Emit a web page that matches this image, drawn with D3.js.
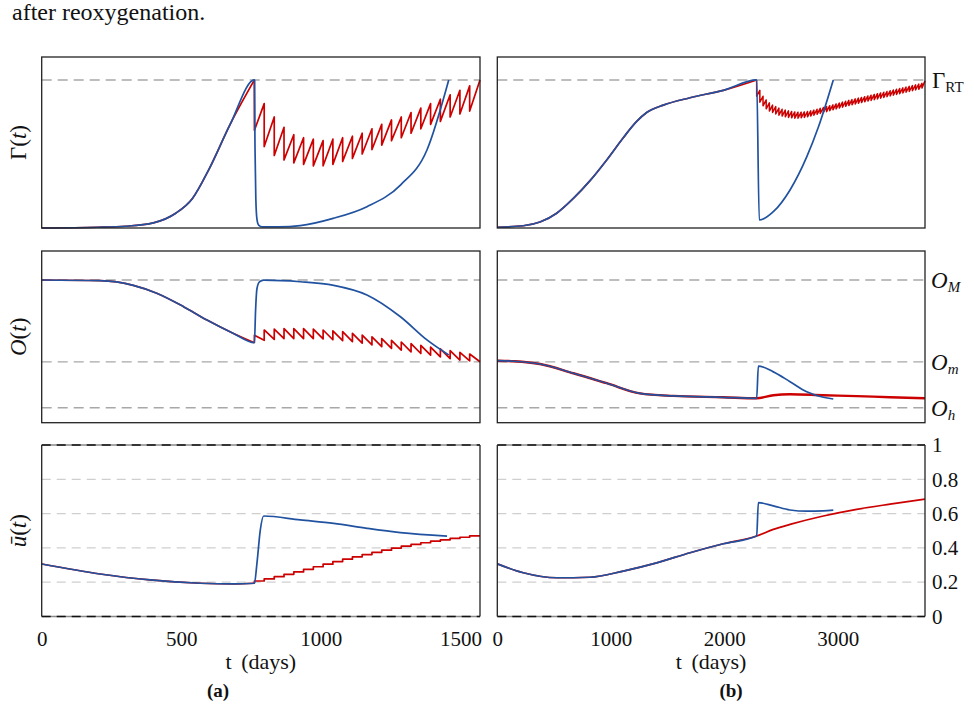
<!DOCTYPE html>
<html>
<head>
<meta charset="utf-8">
<title>reoxygenation</title>
<style>
  body { margin: 0; background: #fff; }
  text { font-family: "Liberation Serif", "DejaVu Serif", serif; fill: #111; }
</style>
</head>
<body>
<script src="https://d3js.org/d3.v7.min.js"></script>
<script>
// ---------- data ----------
// panel (a): shared growth before treatment, then untreated (blue) / treated (red)
var daysA_gamma_pre = [0, 200, 300, 400, 480, 540, 600, 675, 762];
var gammaA_pre      = [0, 0.005, 0.012, 0.035, 0.10, 0.20, 0.40, 0.70, 1.0];
var daysA_gamma_blue = [764, 767, 771, 777, 790, 850, 926, 1044, 1165, 1285, 1380, 1458];
var gammaA_blue      = [0.55, 0.2, 0.06, 0.02, 0.008, 0.008, 0.016, 0.065, 0.144, 0.29, 0.527, 1.0];

var daysA_O_pre = [0, 209, 328, 412, 508, 592, 687, 762];
var oA_pre      = [0.831, 0.827, 0.80, 0.754, 0.676, 0.598, 0.52, 0.466];
var daysA_O_blue = [766, 771, 780, 795, 926, 1046, 1165, 1285, 1380, 1458];
var oA_blue      = [0.65, 0.78, 0.82, 0.83, 0.821, 0.80, 0.744, 0.617, 0.482, 0.394];

var daysA_u_pre = [0, 209, 388, 568, 687, 762];
var uA_pre      = [0.306, 0.248, 0.213, 0.194, 0.19, 0.194];
var daysA_u_blue = [771, 783, 795, 926, 1046, 1165, 1285, 1452];
var uA_blue      = [0.31, 0.504, 0.586, 0.563, 0.543, 0.514, 0.489, 0.469];

// radiotherapy fractions in (a)
var dosesA = [762, 797, 833, 868, 903, 938, 973, 1008, 1043, 1078, 1113, 1148,
              1183, 1218, 1253, 1288, 1323, 1358, 1393, 1428, 1463, 1498, 1533];
var endA = 1570;
var gammaA_afterDose  = [0.66, 0.55, 0.49, 0.46, 0.44, 0.43, 0.42, 0.42, 0.43, 0.45, 0.47, 0.50,
                         0.53, 0.56, 0.59, 0.61, 0.64, 0.67, 0.70, 0.72, 0.75, 0.77, 0.79];
var gammaA_beforeNext = [0.84, 0.75, 0.68, 0.63, 0.61, 0.60, 0.59, 0.60, 0.61, 0.62, 0.64, 0.67,
                         0.70, 0.73, 0.75, 0.78, 0.81, 0.84, 0.87, 0.90, 0.93, 0.96, 1.0];
var oA_afterDose  = [0.51, 0.54, 0.545, 0.548, 0.548, 0.548, 0.545, 0.54, 0.535, 0.53, 0.52, 0.51,
                     0.50, 0.49, 0.48, 0.47, 0.46, 0.45, 0.44, 0.43, 0.42, 0.41, 0.40];
var oA_beforeNext = [0.48, 0.485, 0.49, 0.49, 0.49, 0.49, 0.488, 0.483, 0.478, 0.472, 0.463, 0.453,
                     0.443, 0.433, 0.423, 0.413, 0.403, 0.393, 0.383, 0.373, 0.365, 0.36, 0.355];
var uA_afterDose  = [0.207, 0.219, 0.232, 0.246, 0.260, 0.275, 0.290, 0.305, 0.320, 0.334, 0.348, 0.361,
                     0.374, 0.387, 0.399, 0.410, 0.420, 0.430, 0.439, 0.447, 0.455, 0.462, 0.470];

// panel (b)
var daysB_gamma_pre = [0, 229, 376, 523, 670, 817, 964, 1110, 1228, 1316, 1463, 1698, 1991, 2285];
var gammaB_pre      = [0.005, 0.015, 0.04, 0.10, 0.20, 0.32, 0.46, 0.61, 0.72, 0.78, 0.83, 0.88, 0.93, 1.0];
var daysB_gamma_blue = [2308, 2432, 2579, 2726, 2828, 2960];
var gammaB_blue      = [0.054, 0.11, 0.257, 0.48, 0.68, 1.0];

var daysB_O_pre = [0, 150, 376, 670, 964, 1257, 1551, 1991, 2285];
var oB_pre      = [0.361, 0.358, 0.342, 0.288, 0.23, 0.171, 0.156, 0.148, 0.142];
var daysB_O_blue = [2300, 2432, 2579, 2726, 2872, 2960];
var oB_blue      = [0.33, 0.296, 0.239, 0.18, 0.148, 0.138];
var daysB_O_red  = [2432, 2579, 2872, 3166, 3460, 3768];
var oB_red       = [0.16, 0.166, 0.16, 0.155, 0.148, 0.142];

var daysB_u_pre = [0, 229, 523, 817, 1110, 1404, 1698, 1991, 2285];
var uB_pre      = [0.307, 0.255, 0.226, 0.229, 0.265, 0.313, 0.372, 0.424, 0.469];
var daysB_u_blue = [2300, 2432, 2579, 2726, 2872, 2960];
var uB_blue      = [0.664, 0.645, 0.621, 0.614, 0.616, 0.62];
var daysB_u_red  = [2432, 2579, 2872, 3166, 3460, 3768];
var uB_red       = [0.508, 0.537, 0.586, 0.625, 0.655, 0.684];

// radiotherapy fractions in (b)
var dosesB = [2285, 2313, 2341, 2369, 2397, 2425, 2453, 2481, 2509, 2537, 2565, 2593, 2621, 2649,
              2677, 2705, 2733, 2761, 2789, 2817, 2845, 2873, 2901, 2929, 2957, 2985, 3013, 3041,
              3069, 3097, 3125, 3153, 3181, 3209, 3237, 3265, 3293, 3321, 3349, 3377, 3405, 3433,
              3461, 3489, 3517, 3545, 3573, 3601, 3629, 3657, 3685, 3713, 3741];
var endB = 3768;
var gammaB_afterDose  = [0.89, 0.85, 0.825, 0.805, 0.79, 0.78, 0.77, 0.762, 0.756, 0.751, 0.747, 0.744,
                         0.742, 0.742, 0.744, 0.747, 0.751, 0.756, 0.762, 0.768, 0.774, 0.78, 0.786,
                         0.792, 0.798, 0.804, 0.81, 0.816, 0.822, 0.827, 0.832, 0.837, 0.842, 0.847,
                         0.852, 0.857, 0.862, 0.867, 0.872, 0.877, 0.882, 0.887, 0.892, 0.897, 0.902,
                         0.907, 0.912, 0.917, 0.922, 0.927, 0.932, 0.937, 0.945];
var gammaB_beforeNext = [0.93, 0.89, 0.865, 0.845, 0.83, 0.82, 0.81, 0.802, 0.796, 0.791, 0.787, 0.784,
                         0.782, 0.782, 0.784, 0.787, 0.791, 0.796, 0.802, 0.808, 0.814, 0.82, 0.826,
                         0.832, 0.838, 0.844, 0.85, 0.856, 0.862, 0.867, 0.872, 0.877, 0.882, 0.887,
                         0.892, 0.897, 0.902, 0.907, 0.912, 0.917, 0.922, 0.927, 0.932, 0.937, 0.942,
                         0.947, 0.952, 0.957, 0.962, 0.967, 0.972, 0.977, 0.995];

// reference levels and ticks
var gammaLevels = [1];
var oLevels = [0.831, 0.354, 0.087];
var oLevelNames = ["M", "m", "h"];
var uGrid = [0.2, 0.4, 0.6, 0.8];
var uTicks = [0, 0.2, 0.4, 0.6, 0.8, 1];
var ticksA = [0, 500, 1000, 1500];
var ticksB = [0, 1000, 2000, 3000];

// ---------- drawing ----------
var W = 974, H = 723;
var BLUE = "#2152a0", RED = "#cc0000";

var svg = d3.select("body").append("svg").attr("width", W).attr("height", H);
svg.append("rect").attr("width", W).attr("height", H).attr("fill", "#fff");

var xs = [d3.scaleLinear().domain([0, endA]).range([41.7, 480]),
          d3.scaleLinear().domain([0, endB]).range([497.3, 925])];
var ys = [d3.scaleLinear().domain([0, 1.155]).range([228, 57]),
          d3.scaleLinear().domain([0, 1]).range([422.7, 251]),
          d3.scaleLinear().domain([0, 1]).range([616.5, 445])];

function zip(a, b) { return a.map(function (d, i) { return [d, b[i]]; }); }
// a treatment schedule: value jumps at each dose, then drifts until the next one
function schedule(doses, after, before, end) {
  var p = [];
  for (var i = 0; i < doses.length; i++) {
    p.push([doses[i], after[i]]);
    p.push([i + 1 < doses.length ? doses[i + 1] : end, before[i]]);
  }
  return p;
}
function liner(c, r, curve) {
  return d3.line().x(function (d) { return xs[c](d[0]); })
                  .y(function (d) { return ys[r](d[1]); })
                  .curve(curve);
}
function path(c, r, pts, color, curve, w) {
  svg.append("path").attr("d", liner(c, r, curve)(pts))
    .attr("fill", "none").attr("stroke", color).attr("stroke-width", w || 1.7)
    .attr("stroke-linejoin", "round");
}
function hline(c, r, v, color, dash, w) {
  svg.append("line").attr("x1", xs[c].range()[0]).attr("x2", xs[c].range()[1])
    .attr("y1", ys[r](v)).attr("y2", ys[r](v))
    .attr("stroke", color).attr("stroke-width", w).attr("stroke-dasharray", dash);
}

for (var c = 0; c < 2; c++) {
  gammaLevels.forEach(function (v) { hline(c, 0, v, "#a8a8a8", "10,6", 1.4); });
  oLevels.forEach(function (v) { hline(c, 1, v, "#a8a8a8", "10,6", 1.4); });
  uGrid.forEach(function (v) { hline(c, 2, v, "#cfcfcf", "9,6", 1.3); });
}

var M = d3.curveMonotoneX, L = d3.curveLinear;

// panel (a)
path(0, 0, zip(daysA_gamma_pre, gammaA_pre), RED, M);
path(0, 0, [[762, 1.0]].concat(schedule(dosesA, gammaA_afterDose, gammaA_beforeNext, endA)), RED, L);
path(0, 0, zip(daysA_gamma_pre, gammaA_pre).concat(zip(daysA_gamma_blue, gammaA_blue)), BLUE, M);

path(0, 1, zip(daysA_O_pre, oA_pre), RED, M);
path(0, 1, [[762, 0.466]].concat(schedule(dosesA, oA_afterDose, oA_beforeNext, endA)), RED, L);
path(0, 1, zip(daysA_O_pre, oA_pre).concat(zip(daysA_O_blue, oA_blue)), BLUE, M);

path(0, 2, zip(daysA_u_pre, uA_pre), RED, M);
path(0, 2, [[762, 0.194]].concat(schedule(dosesA, uA_afterDose, uA_afterDose, endA)), RED, L);
path(0, 2, zip(daysA_u_pre, uA_pre).concat(zip(daysA_u_blue, uA_blue)), BLUE, M);

// panel (b)
path(1, 0, zip(daysB_gamma_pre, gammaB_pre), RED, M);
path(1, 0, [[2285, 1.0]].concat(schedule(dosesB, gammaB_afterDose, gammaB_beforeNext, endB)), RED, L, 1.5);
path(1, 0, zip(daysB_gamma_pre, gammaB_pre).concat(zip(daysB_gamma_blue, gammaB_blue)), BLUE, M);

path(1, 1, zip(daysB_O_pre, oB_pre).concat(zip(daysB_O_red, oB_red)), RED, M, 2.4);
path(1, 1, zip(daysB_O_pre, oB_pre).concat(zip(daysB_O_blue, oB_blue)), BLUE, M);

path(1, 2, zip(daysB_u_pre, uB_pre).concat(zip(daysB_u_red, uB_red)), RED, M);
path(1, 2, zip(daysB_u_pre, uB_pre).concat(zip(daysB_u_blue, uB_blue)), BLUE, M);

// frames
for (c = 0; c < 2; c++) {
  for (var r = 0; r < 3; r++) {
    var x0 = xs[c].range()[0], x1 = xs[c].range()[1];
    var y0 = ys[r].range()[0], y1 = ys[r].range()[1];
    if (r < 2) {
      svg.append("rect").attr("x", x0).attr("y", y1).attr("width", x1 - x0).attr("height", y0 - y1)
        .attr("fill", "none").attr("stroke", "#222").attr("stroke-width", 1.3);
    } else {
      [y0, y1].forEach(function (y) {
        svg.append("line").attr("x1", x0).attr("x2", x1).attr("y1", y).attr("y2", y)
          .attr("stroke", "#8a8a8a").attr("stroke-width", 1.3);
        svg.append("line").attr("x1", x0).attr("x2", x1).attr("y1", y).attr("y2", y)
          .attr("stroke", "#111").attr("stroke-width", 1.3).attr("stroke-dasharray", "9,6");
      });
      [x0, x1].forEach(function (x) {
        svg.append("line").attr("x1", x).attr("x2", x).attr("y1", y0).attr("y2", y1)
          .attr("stroke", "#222").attr("stroke-width", 1.3);
      });
    }
  }
}

// x axes
[[0, ticksA], [1, ticksB]].forEach(function (a) {
  var g = svg.append("g").attr("transform", "translate(0," + ys[2].range()[0] + ")")
    .call(d3.axisBottom(xs[a[0]]).tickValues(a[1]).tickSize(0).tickPadding(15).tickFormat(d3.format("d")));
  g.select(".domain").remove();
  g.selectAll("text").attr("font-family", "Liberation Serif").attr("font-size", 21).attr("fill", "#111");
  svg.append("text").attr("x", d3.mean(xs[a[0]].range())).attr("y", 669)
    .attr("text-anchor", "middle").attr("font-size", 22).attr("word-spacing", 4).text("t (days)");
});

// right axis for u-bar
var gr = svg.append("g").attr("transform", "translate(" + xs[1].range()[1] + ",0)")
  .call(d3.axisRight(ys[2]).tickValues(uTicks).tickSize(0).tickPadding(7)
        .tickFormat(function (d) { return d === 0 || d === 1 ? String(d) : d3.format(".1f")(d); }));
gr.select(".domain").remove();
gr.selectAll("text").attr("font-family", "Liberation Serif").attr("font-size", 21).attr("fill", "#111");

// right level labels
var tg = svg.append("text").attr("x", 932).attr("y", ys[0](1) + 8).attr("font-size", 23);
tg.append("tspan").text("Γ");
tg.append("tspan").attr("font-size", 15).attr("dy", 4).text("RT");
oLevels.forEach(function (v, i) {
  var t = svg.append("text").attr("x", 931).attr("y", ys[1](v) + 8).attr("font-size", 23);
  t.append("tspan").attr("font-style", "italic").text("O");
  t.append("tspan").attr("font-style", "italic").attr("font-size", 15).attr("dy", 4).text(oLevelNames[i]);
});

// y labels
function ylabel(r, parts) {
  var t = svg.append("text").attr("text-anchor", "middle").attr("font-size", 23)
    .attr("transform", "translate(26," + d3.mean(ys[r].range()) + ") rotate(-90)");
  parts.forEach(function (p) {
    t.append("tspan").attr("font-style", p[1] ? "italic" : "normal").text(p[0]);
  });
}
ylabel(0, [["Γ(", 0], ["t", 1], [")", 0]]);
ylabel(1, [["O", 1], ["(", 0], ["t", 1], [")", 0]]);
ylabel(2, [["ū", 1], ["(", 0], ["t", 1], [")", 0]]);

// title and sub-captions
svg.append("text").attr("x", 12).attr("y", 20).attr("font-size", 24).text("after reoxygenation.");
svg.append("text").attr("x", 218).attr("y", 697).attr("text-anchor", "middle")
  .attr("font-size", 19).attr("font-weight", "bold").text("(a)");
svg.append("text").attr("x", 731).attr("y", 697).attr("text-anchor", "middle")
  .attr("font-size", 19).attr("font-weight", "bold").text("(b)");
</script>
</body>
</html>
